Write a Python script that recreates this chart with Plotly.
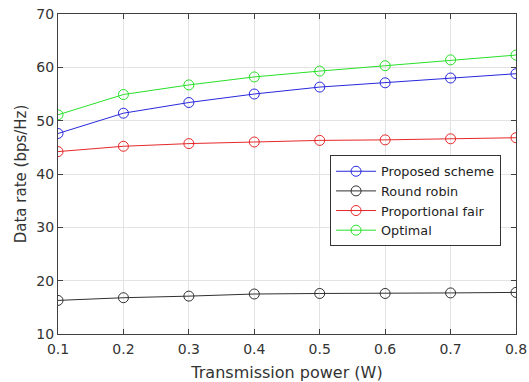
import plotly.graph_objects as go

power = [0.1, 0.2, 0.3, 0.4, 0.5, 0.6, 0.7, 0.8]
proposed = [47.6, 51.4, 53.4, 55.0, 56.3, 57.1, 58.0, 58.8]
round_robin = [16.3, 16.8, 17.1, 17.5, 17.6, 17.6, 17.7, 17.8]
prop_fair = [44.2, 45.2, 45.7, 46.0, 46.3, 46.4, 46.6, 46.8]
optimal = [51.1, 54.9, 56.7, 58.2, 59.3, 60.3, 61.4, 62.3]
y_ticks = [10, 20, 30, 40, 50, 60, 70]

series = [
    ("Proposed scheme", proposed, "#2828dc"),
    ("Round robin", round_robin, "#303030"),
    ("Proportional fair", prop_fair, "#e62828"),
    ("Optimal", optimal, "#28e028"),
]

FONT = "DejaVu Sans, Arial"

fig = go.Figure()
for name, vals, col in series:
    fig.add_trace(go.Scatter(
        x=power, y=vals, name=name, mode="lines+markers",
        line=dict(color=col, width=1),
        marker=dict(symbol="circle-open", size=10, color=col, line=dict(width=1, color=col)),
    ))

axis_common = dict(
    showgrid=True, gridcolor="#e3e3e3", gridwidth=1,
    showline=True, linecolor="#404040", linewidth=1, mirror="ticks",
    ticks="inside", ticklen=5, tickcolor="#404040",
    tickfont=dict(family=FONT, size=14, color="#333333"),
    zeroline=False, ticklabeloverflow="allow",
)

fig.update_layout(
    width=529, height=382,
    margin=dict(l=58, r=13, t=14, b=48),
    paper_bgcolor="white", plot_bgcolor="white",
    font=dict(family=FONT, color="#333333"),
    xaxis=dict(range=[0.1, 0.8], tickvals=power, ticktext=[f"{p:.1f}" for p in power],
               title=dict(text="Transmission power (W)", font=dict(size=16)),
               automargin=False, ticklabelstandoff=2,
               **axis_common),
    yaxis=dict(range=[10, 70], tickvals=y_ticks,
               title=dict(text="Data rate (bps/Hz)", font=dict(size=15), standoff=6),
               automargin="left",
               **axis_common),
    legend=dict(x=0.594, y=0.558, xanchor="left", yanchor="top",
                bgcolor="white", bordercolor="#333333", borderwidth=1,
                font=dict(family=FONT, size=12.8, color="#222222"),
                tracegroupgap=0, itemwidth=40),
    showlegend=True,
)

fig.write_html("out.html", config={"displayModeBar": False},
               post_script="document.body.style.margin='0';")
